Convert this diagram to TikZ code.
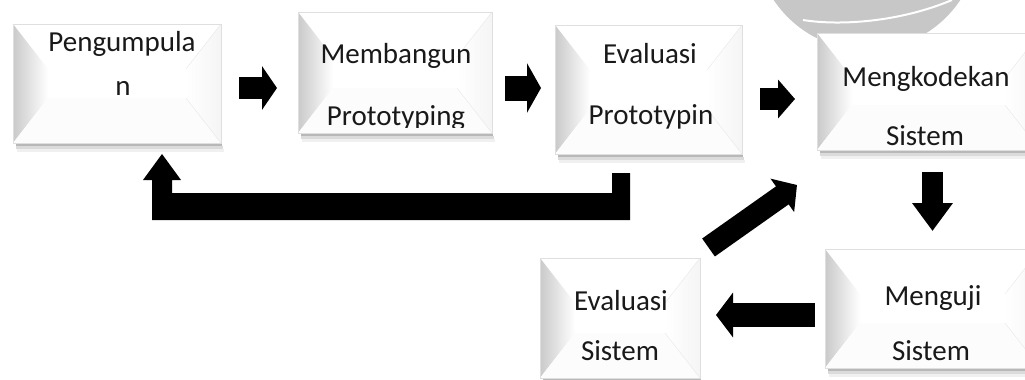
\documentclass[tikz,border=0pt]{standalone}
\usepackage{fontspec}
\setmainfont{Carlito}
\usetikzlibrary{arrows.meta,fit}
\tikzset{
  boxbody/.style={draw=gray!25, line width=.5pt, fill=white, inner sep=0pt},
  lbl/.style={anchor=base, inner sep=0pt, font=\fontsize{29}{29}\selectfont, text=black!90},
  blockarrow/.style={line width=#1, draw=black},
  facelines/.style={draw=gray!18, line width=.4pt},
}
\newcommand\bevbox[5]{%
  \fill[black,opacity=.28] ({#2+3},#5) rectangle ({#4+1},{#5+3});
  \fill[black,opacity=.14] ({#2+3},{#5+3}) rectangle ({#4+2},{#5+6});
  \fill[black,opacity=.06] ({#2+4},{#5+6}) rectangle ({#4+3},{#5+9});
  \coordinate (#1-nw) at (#2,#3);
  \coordinate (#1-se) at (#4,#5);
  \node[boxbody, fit={(#1-nw) (#1-se)}] (#1) {};
  \shade[left color=gray!42, right color=white] (#2,#3) -- ({#2+35},{#3+45}) -- ({#2+35},{#5-45}) -- (#2,#5) -- cycle;
  \fill[gray!2] (#2,#5) -- ({#2+35},{#5-45}) -- ({#4-35},{#5-45}) -- (#4,#5) -- cycle;
  \shade[left color=white, right color=gray!8] (#4,#3) -- ({#4-35},{#3+45}) -- ({#4-35},{#5-45}) -- (#4,#5) -- cycle;
  \draw[facelines] (#4,#3) -- ({#4-35},{#3+45}) (#4,#5) -- ({#4-35},{#5-45});
  \draw[draw=gray!25, line width=.5pt] (#2,#3) rectangle (#4,#5);
}
\begin{document}
\begin{tikzpicture}[x=1pt,y=-1pt]
\useasboundingbox (0,0) rectangle (1025,380);
\fill[white] (0,0) rectangle (1025,380);

% watermark
\begin{scope}
  \clip (0,0) rectangle (1025,380);
  \fill[black!22] (867,-62) circle (112);
  \draw[white, line width=2pt] (803,20) .. controls (840,26) and (900,22) .. (952,0);
\end{scope}

% boxes
\bevbox{b1}{13}{24}{221}{143}
\bevbox{b2}{298}{12}{492}{133}
\bevbox{b3}{555}{25}{742}{154}
\bevbox{b4}{817}{33}{1040}{150}
\bevbox{b5}{825}{249}{1040}{368}
\bevbox{b6}{540}{258}{700}{378}

% labels
\node[lbl] (t1a) at (122,51) {Pengumpula};
\node[lbl] (t1b) at (123,95) {n};
\node[lbl] (t2a) at (396,63) {Membangun};
\begin{scope}
  \clip (298,12) rectangle (492,127.5);
  \node[lbl] (t2b) at (396,125) {Prototyping};
\end{scope}
\node[lbl] (t3a) at (650,63) {Evaluasi};
\node[lbl] (t3b) at (651,124) {Prototypin};
\node[lbl] (t4a) at (926,86) {Mengkodekan};
\node[lbl] (t4b) at (925,145) {Sistem};
\node[lbl] (t5a) at (933,305) {Menguji};
\node[lbl] (t5b) at (931,360) {Sistem};
\node[lbl] (t6a) at (621,310) {Evaluasi};
\node[lbl] (t6b) at (620,360) {Sistem};

% block arrows
\coordinate (a1s) at (239,88);  \coordinate (a1e) at (277,88);
\coordinate (a2s) at (505,88);  \coordinate (a2e) at (541,88);
\coordinate (a3s) at (760,99);  \coordinate (a3e) at (795,99);
\coordinate (a4s) at (932.5,172); \coordinate (a4e) at (932.5,231);
\coordinate (a5s) at (815,315); \coordinate (a5e) at (716,315);
\coordinate (a6s) at (708.5,247.5); \coordinate (a6e) at (797,185);
\draw[blockarrow=22pt, -{Triangle[width=43pt,length=15pt]}] (a1s) -- (a1e);
\draw[blockarrow=25pt, -{Triangle[width=49pt,length=14pt]}] (a2s) -- (a2e);
\draw[blockarrow=22pt, -{Triangle[width=38pt,length=17pt]}] (a3s) -- (a3e);
\draw[blockarrow=21pt, -{Triangle[width=39pt,length=28pt]}] (a4s) -- (a4e);
\draw[blockarrow=24pt, -{Triangle[width=44pt,length=17pt]}] (a5s) -- (a5e);
\draw[blockarrow=22pt, -{Triangle[width=40pt,length=18pt]}] (a6s) -- (a6e);

% loop arrow back to first box
\fill[black] (630,173) -- (630,220) -- (152,220) -- (152,180) -- (143,180)
  -- (162,154) -- (181,180) -- (172,180) -- (172,193) -- (612,193) -- (612,173) -- cycle;
\end{tikzpicture}
\end{document}
